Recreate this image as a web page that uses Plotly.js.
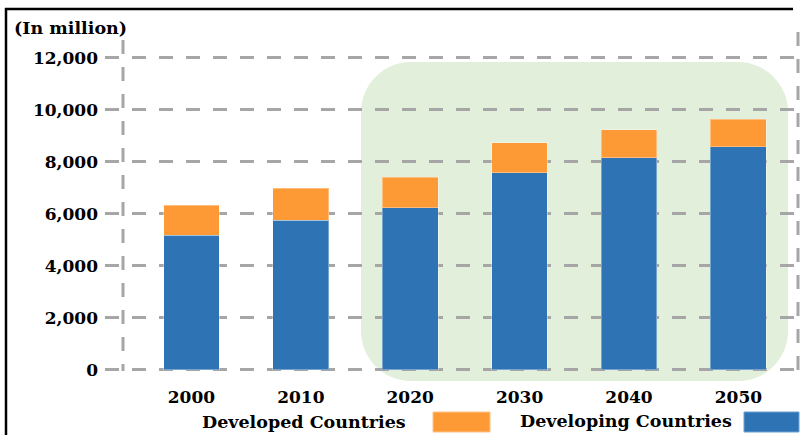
<!DOCTYPE html>
<html>
<head>
<meta charset="utf-8">
<script src="https://cdn.plot.ly/plotly-3.0.1.min.js"></script>
<style>html,body{margin:0;padding:0;background:#fff;}#chart{width:810px;height:435px;}</style>
</head>
<body>
<div id="chart"></div>
<script>
// ---- data (in million) ----
const years = ['2000', '2010', '2020', '2030', '2040', '2050'];
const developing = [5170, 5760, 6230, 7580, 8150, 8580];
const developed = [1170, 1220, 1170, 1150, 1090, 1060];
const yTickVals = [0, 2000, 4000, 6000, 8000, 10000, 12000];
const yTickText = ['0', '2,000', '4,000', '6,000', '8,000', '10,000', '12,000'];
const seriesNames = ['Developed Countries', 'Developing Countries'];
const unitLabel = '(In million)';

// ---- styling / geometry ----
const W = 810, H = 435, ML = 105, MR = 12, MT = 32, MB = 64;
const PW = W - ML - MR, PH = H - MT - MB;
const px = X => (X - ML) / PW;
const py = Y => (H - MB - Y) / PH;
const FONT = 'DejaVu Serif';
const ORANGE = '#FD9A36', BLUE = '#2E74B5', GRID = '#A6A6A6', GREEN = '#E2EFDA';

function roundRectPath(x0, y0, x1, y1, r) {
  const k = 0.5523 * r;
  const P = (X, Y) => px(X).toFixed(5) + ',' + py(Y).toFixed(5);
  return 'M' + P(x0 + r, y0) +
    ' L' + P(x1 - r, y0) +
    ' C' + P(x1 - r + k, y0) + ' ' + P(x1, y0 + r - k) + ' ' + P(x1, y0 + r) +
    ' L' + P(x1, y1 - r) +
    ' C' + P(x1, y1 - r + k) + ' ' + P(x1 - r + k, y1) + ' ' + P(x1 - r, y1) +
    ' L' + P(x0 + r, y1) +
    ' C' + P(x0 + r - k, y1) + ' ' + P(x0, y1 - r + k) + ' ' + P(x0, y1 - r) +
    ' L' + P(x0, y0 + r) +
    ' C' + P(x0, y0 + r - k) + ' ' + P(x0 + r - k, y0) + ' ' + P(x0 + r, y0) + ' Z';
}

const traces = [
  {
    type: 'bar', name: seriesNames[1], x: years, y: developing,
    marker: {color: BLUE, line: {color: 'rgba(255,255,255,0.35)', width: 1}},
    width: 0.51
  },
  {
    type: 'bar', name: seriesNames[0], x: years, y: developed,
    marker: {color: ORANGE, line: {color: 'rgba(255,255,255,0.35)', width: 1}},
    width: 0.51
  }
];

const dash = '14px,13px';
const shapes = [
  // green highlight
  {type: 'path', xref: 'paper', yref: 'paper', layer: 'below',
   path: roundRectPath(361, 62, 788, 381, 50),
   fillcolor: GREEN, line: {width: 0}},
  // left dashed axis line
  {type: 'line', xref: 'paper', yref: 'paper', layer: 'above',
   x0: px(123), x1: px(123), y0: py(40), y1: py(371),
   line: {color: GRID, width: 3, dash: dash}},
  // right dashed line
  {type: 'line', xref: 'paper', yref: 'paper', layer: 'below',
   x0: px(798), x1: px(798), y0: py(32), y1: py(371),
   line: {color: GRID, width: 3, dash: dash}},
  // frame (top + left)
  {type: 'line', xref: 'paper', yref: 'paper',
   x0: px(5), x1: px(793), y0: py(9), y1: py(9),
   line: {color: '#000', width: 2.5}},
  {type: 'line', xref: 'paper', yref: 'paper',
   x0: px(6), x1: px(6), y0: py(8), y1: py(436),
   line: {color: '#000', width: 2.5}},
  // legend boxes
  {type: 'rect', xref: 'paper', yref: 'paper',
   x0: px(433), x1: px(490), y0: py(412), y1: py(432),
   fillcolor: ORANGE, line: {color: '#FFC58A', width: 1}},
  {type: 'rect', xref: 'paper', yref: 'paper',
   x0: px(744), x1: px(799), y0: py(412), y1: py(432),
   fillcolor: BLUE, line: {color: '#6FA0D3', width: 1}}
];

const annFont = {family: FONT, size: 17, color: '#000', weight: 'bold'};
const annotations = [
  {xref: 'paper', yref: 'paper', x: px(12), y: py(28), xanchor: 'left', yanchor: 'middle',
   text: unitLabel, showarrow: false, font: {family: FONT, size: 17.5, color: '#000', weight: 'bold'}},
  {xref: 'paper', yref: 'paper', x: px(304), y: py(422), xanchor: 'center', yanchor: 'middle',
   text: seriesNames[0], showarrow: false, font: {family: FONT, size: 17.5, color: '#000', weight: 'bold'}},
  {xref: 'paper', yref: 'paper', x: px(626), y: py(421), xanchor: 'center', yanchor: 'middle',
   text: seriesNames[1], showarrow: false, font: {family: FONT, size: 17.5, color: '#000', weight: 'bold'}}
];

const layout = {
  width: W, height: H,
  margin: {l: ML, r: MR, t: MT, b: MB, pad: 0},
  paper_bgcolor: '#fff', plot_bgcolor: 'rgba(0,0,0,0)',
  barmode: 'stack',
  showlegend: false,
  xaxis: {
    type: 'category', range: [-0.79, 5.545],
    showgrid: false, zeroline: false, showline: false, ticks: '',
    tickfont: {family: FONT, size: 17, color: '#000', weight: 'bold'},
    ticklabelstandoff: 14, fixedrange: true
  },
  yaxis: {
    range: [-50, 13000],
    tickvals: yTickVals, ticktext: yTickText,
    showgrid: true, gridcolor: GRID, gridwidth: 3, griddash: dash,
    zeroline: false, showline: false, ticks: '',
    tickfont: {family: FONT, size: 17, color: '#000', weight: 'bold'},
    ticklabelstandoff: 6, fixedrange: true
  },
  shapes: shapes,
  annotations: annotations
};

Plotly.newPlot('chart', traces, layout, {displayModeBar: false, staticPlot: true});
</script>
</body>
</html>
